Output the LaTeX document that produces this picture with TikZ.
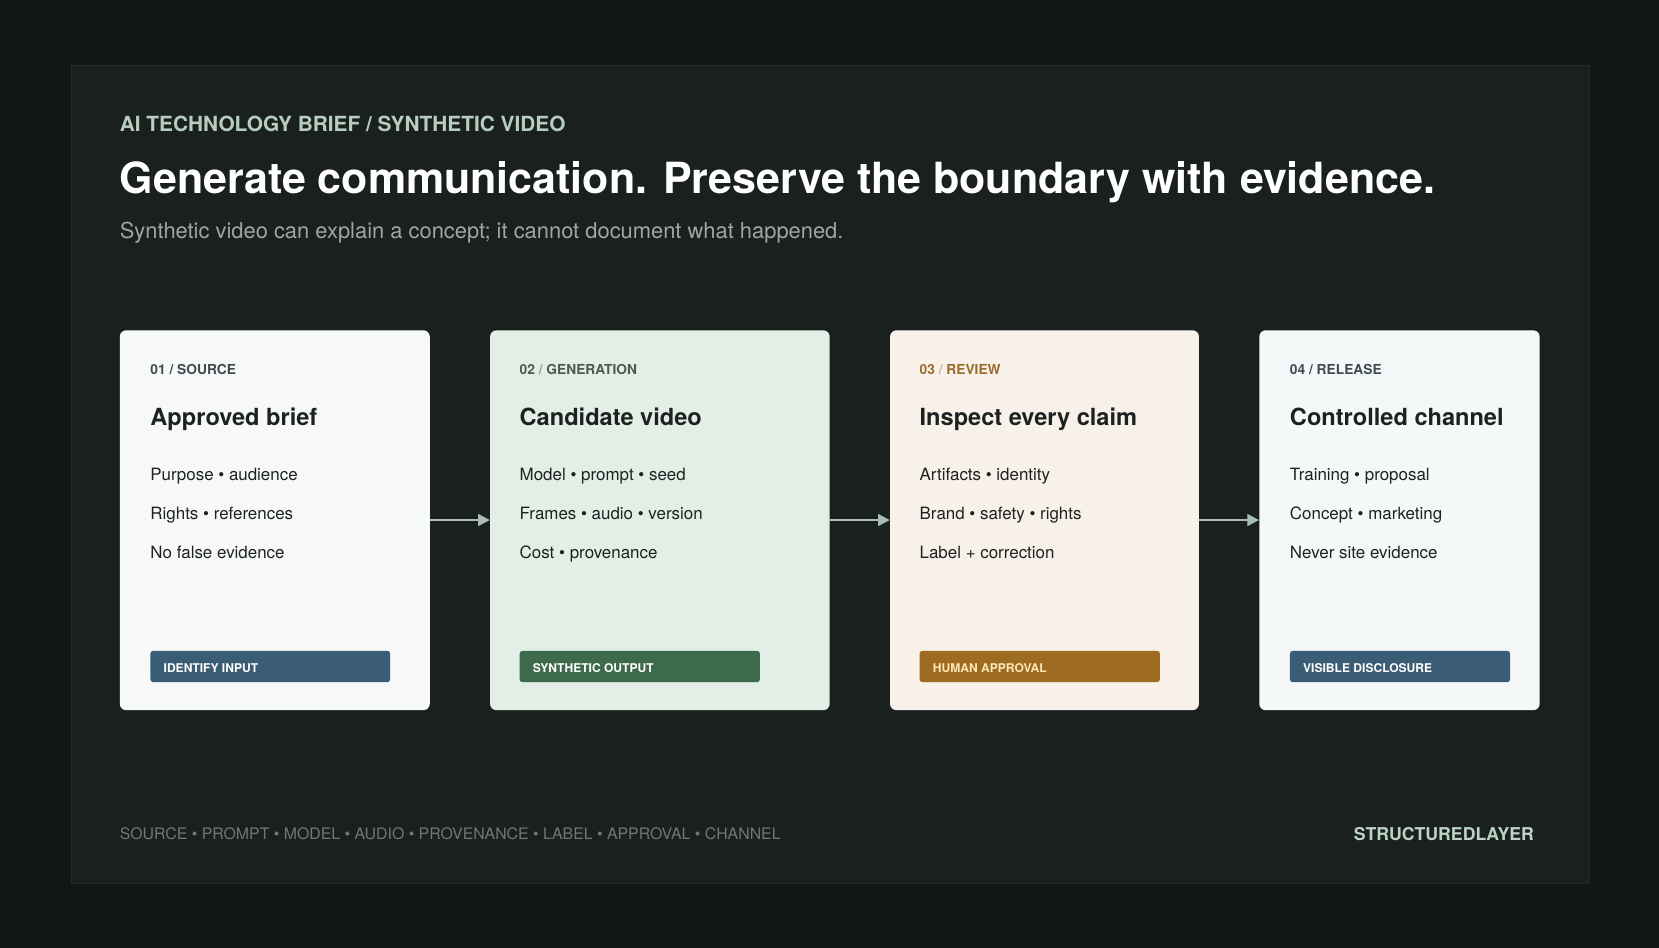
\documentclass[tikz,border=0pt]{standalone}
\usepackage{fontspec}
\setmainfont{TeX Gyre Heros}
\usepackage{tikz}
\usetikzlibrary{arrows.meta}

\definecolor{bgdark}{HTML}{111715}
\definecolor{panelfill}{HTML}{19201E}
\definecolor{panelline}{HTML}{212927}
\definecolor{kicker}{HTML}{B9CDBF}
\definecolor{subgray}{HTML}{9EA7A3}
\definecolor{inkdark}{HTML}{1D2220}
\definecolor{cardA}{HTML}{F7F9F8}
\definecolor{cardB}{HTML}{E2EEE6}
\definecolor{cardC}{HTML}{F8F1E9}
\definecolor{cardD}{HTML}{F4F8F8}
\definecolor{tagA}{HTML}{3F4A4E}
\definecolor{tagB}{HTML}{4A5A4F}
\definecolor{tagC}{HTML}{9A6B2C}
\definecolor{tagD}{HTML}{3E4B52}
\definecolor{badgeblue}{HTML}{3A5D75}
\definecolor{badgegreen}{HTML}{3E6A4C}
\definecolor{badgegold}{HTML}{9E6B22}
\definecolor{badgetext}{HTML}{FDE7B5}
\definecolor{flow}{HTML}{A9BDB4}
\definecolor{footgray}{HTML}{6E7874}
\definecolor{brand}{HTML}{BCD3C6}

\newcommand{\fsz}[1]{\fontsize{#1}{#1}\selectfont}

\tikzset{
  txt/.style={anchor=base west,inner sep=0pt},
  card/.style={anchor=north west,inner sep=0pt,rounded corners=6pt,minimum height=359pt},
  tag/.style={txt,font=\fsz{13}\bfseries},
  head/.style={txt,font=\fsz{22.3}\bfseries,text=inkdark},
  item/.style={txt,font=\fsz{16},text=inkdark},
  badge/.style={anchor=north west,inner sep=0pt,rounded corners=2.5pt,minimum height=29.5pt},
  badgetxt/.style={txt,font=\fsz{11.4}\bfseries,text=white},
  flowarrow/.style={draw=flow,line width=2pt,-{Triangle[length=11pt,width=11pt]}}
}

\begin{document}
\begin{tikzpicture}[x=1pt,y=-1pt]

\useasboundingbox (0,0) rectangle (1568,896);
\fill[bgdark] (0,0) rectangle (1568,896);
\draw[panelline,fill=panelfill,line width=1pt] (68,62) rectangle (1502,835);

\node[txt,font=\fsz{19.7}\bfseries,text=kicker] at (113,124.5) (kick) {AI TECHNOLOGY BRIEF / SYNTHETIC VIDEO};
\node[txt,font=\fsz{40.6}\bfseries,text=white] at (113,183) (title) {Generate communication. Preserve the boundary with evidence.};
\node[txt,font=\fsz{20.7},text=subgray] at (113,225) (sub) {Synthetic video can explain a concept; it cannot document what happened.};


% 01 source
\node[card,fill=cardA,minimum width=293pt] at (113,312) (c1) {};
\node[tag,text=tagA] at (142,353.5) (t1) {01 / SOURCE};
\node[head] at (142,402.6) (h1) {Approved brief};
\node[item] at (142,454.3) (a1) {Purpose • audience};
\node[item] at (142,491) (b1) {Rights • references};
\node[item] at (142,527.7) (d1) {No false evidence};
\node[badge,fill=badgeblue,minimum width=226.5pt] at (142,615) (g1) {};
\node[badgetxt] at (154.5,635.5) (gt1) {IDENTIFY INPUT};


% 02 generation
\node[card,fill=cardB,minimum width=321pt] at (463,312) (c2) {};
\node[tag,text=tagB] at (491,353.5) (t2) {02 \textcolor{tagB!60}{/} GENERATION};
\node[head] at (491,402.6) (h2) {Candidate video};
\node[item] at (491,454.3) (a2) {Model • prompt • seed};
\node[item] at (491,491) (b2) {Frames • audio • version};
\node[item] at (491,527.7) (d2) {Cost • provenance};
\node[badge,fill=badgegreen,minimum width=227pt] at (491,615) (g2) {};
\node[badgetxt] at (503.5,635.5) (gt2) {SYNTHETIC OUTPUT};


% 03 review
\node[card,fill=cardC,minimum width=292pt] at (841,312) (c3) {};
\node[tag,text=tagC] at (869,353.5) (t3) {03 \textcolor{tagC!50}{/} REVIEW};
\node[head] at (869,402.6) (h3) {Inspect every claim};
\node[item] at (869,454.3) (a3) {Artifacts • identity};
\node[item] at (869,491) (b3) {Brand • safety • rights};
\node[item] at (869,527.7) (d3) {Label + correction};
\node[badge,fill=badgegold,minimum width=227pt] at (869,615) (g3) {};
\node[badgetxt,text=badgetext] at (881.5,635.5) (gt3) {HUMAN APPROVAL};


% 04 release
\node[card,fill=cardD,minimum width=265pt] at (1190,312) (c4) {};
\node[tag,text=tagD] at (1219,353.5) (t4) {04 / RELEASE};
\node[head] at (1219,402.6) (h4) {Controlled channel};
\node[item] at (1219,454.3) (a4) {Training • proposal};
\node[item] at (1219,491) (b4) {Concept • marketing};
\node[item] at (1219,527.7) (d4) {Never site evidence};
\node[badge,fill=badgeblue,minimum width=208pt] at (1219,615) (g4) {};
\node[badgetxt] at (1231.5,635.5) (gt4) {VISIBLE DISCLOSURE};


\draw[flowarrow] (c1.east |- 0,491.5) -- (c2.west |- 0,491.5);
\draw[flowarrow] (c2.east |- 0,491.5) -- (c3.west |- 0,491.5);
\draw[flowarrow] (c3.east |- 0,491.5) -- (c4.west |- 0,491.5);

\node[txt,font=\fsz{15},text=footgray] at (113,793.5) (foot) {SOURCE • PROMPT • MODEL • AUDIO • PROVENANCE • LABEL • APPROVAL • CHANNEL};
\node[anchor=base east,inner sep=0pt,font=\fsz{16.7}\bfseries,text=brand] at (1450,794) (logo) {STRUCTUREDLAYER};

\end{tikzpicture}
\end{document}
